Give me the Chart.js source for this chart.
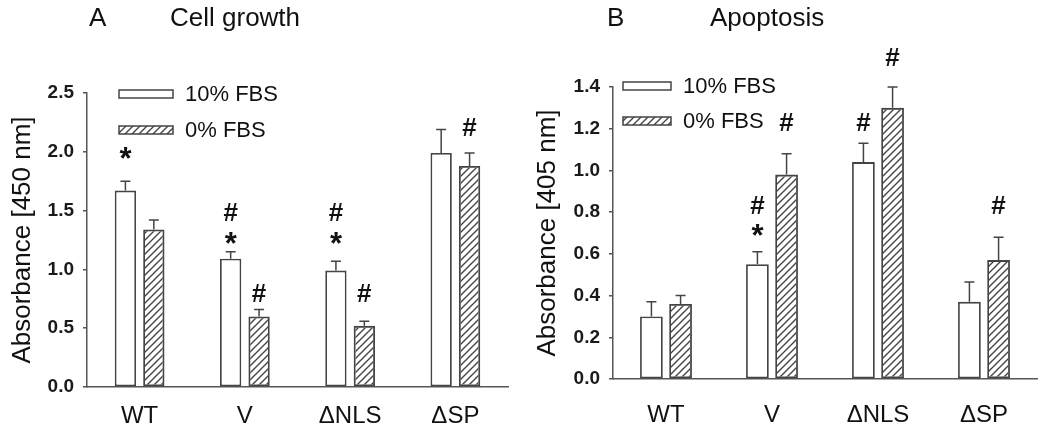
<!DOCTYPE html>
<html>
<head>
<meta charset="utf-8">
<script src="https://cdn.jsdelivr.net/npm/chart.js@4/dist/chart.umd.min.js"></script>
<style>
  body { margin: 0; background: #fff; }
  #wrap { position: relative; width: 1050px; height: 431px; }
  #growth { position: absolute; left: 0; top: 0; }
  #apop { position: absolute; left: 520px; top: 0; }
</style>
</head>
<body>
<div id="wrap">
  <canvas id="growth" width="520" height="431"></canvas>
  <canvas id="apop" width="530" height="431"></canvas>
</div>
<script>
// categories
const groups = ['WT', 'V', '\u0394NLS', '\u0394SP'];
const seriesNames = ['10% FBS', '0% FBS'];

// A - cell growth (absorbance 450 nm)
const growth10 = [1.67, 1.09, 0.99, 1.99];
const growth10Err = [0.08, 0.06, 0.08, 0.20];
const growth0 = [1.34, 0.60, 0.52, 1.88];
const growth0Err = [0.08, 0.06, 0.04, 0.11];
// significance marks: [series, group, symbol, y value]
const growthMarks = [
  [0, 0, '*', 1.99],
  [0, 1, '#', 1.49], [0, 1, '*', 1.27], [1, 1, '#', 0.80],
  [0, 2, '#', 1.49], [0, 2, '*', 1.27], [1, 2, '#', 0.80],
  [1, 3, '#', 2.21]
];

// B - apoptosis (absorbance 405 nm)
const apop10 = [0.30, 0.55, 1.04, 0.37];
const apop10Err = [0.07, 0.06, 0.09, 0.095];
const apop0 = [0.36, 0.98, 1.30, 0.57];
const apop0Err = [0.04, 0.10, 0.10, 0.11];
const apopMarks = [
  [0, 1, '#', 0.835], [0, 1, '*', 0.715], [1, 1, '#', 1.234],
  [0, 2, '#', 1.234], [1, 2, '#', 1.546],
  [1, 3, '#', 0.835]
];

const FONT = "'Liberation Sans', Arial, sans-serif";
const INK = '#111';
const LINE = '#444';

Chart.defaults.font.family = FONT;
Chart.defaults.color = INK;

function hatch() {
  const c = document.createElement('canvas');
  c.width = 7; c.height = 7;
  const g = c.getContext('2d');
  g.strokeStyle = '#444';
  g.lineWidth = 1.4;
  g.beginPath();
  g.moveTo(-1, 8); g.lineTo(8, -1);
  g.moveTo(-4.5, 4.5); g.lineTo(4.5, -4.5);
  g.moveTo(2.5, 11.5); g.lineTo(11.5, 2.5);
  g.stroke();
  return g.createPattern(c, 'repeat');
}
const hatchFill = hatch();

// draws error bars, stars/hashes, legend and panel titles
const extras = {
  id: 'extras',
  afterDatasetsDraw(chart, args, o) {
    const ctx = chart.ctx;
    const y = chart.scales.y;
    ctx.save();
    ctx.strokeStyle = LINE;
    ctx.lineWidth = 1.5;
    o.errors.forEach((errs, s) => {
      const meta = chart.getDatasetMeta(s);
      const vals = chart.data.datasets[s].data;
      errs.forEach((e, i) => {
        const x = meta.data[i].x;
        const y0 = y.getPixelForValue(vals[i]);
        const y1 = y.getPixelForValue(vals[i] + e);
        ctx.beginPath();
        ctx.moveTo(x, y0); ctx.lineTo(x, y1);
        ctx.moveTo(x - 5, y1); ctx.lineTo(x + 5, y1);
        ctx.stroke();
      });
    });

    ctx.fillStyle = INK;
    ctx.textAlign = 'center';
    ctx.textBaseline = 'alphabetic';
    o.marks.forEach(m => {
      const bar = chart.getDatasetMeta(m[0]).data[m[1]];
      ctx.font = (m[2] === '*' ? 'bold 31px ' : 'bold 26px ') + FONT;
      const tm = ctx.measureText(m[2]);
      const cy = y.getPixelForValue(m[3]);
      const off = (tm.actualBoundingBoxAscent - tm.actualBoundingBoxDescent) / 2;
      ctx.fillText(m[2], bar.x, cy + off);
    });

    // legend
    const L = o.legend;
    ctx.font = '22px ' + FONT;
    ctx.textAlign = 'left';
    ctx.textBaseline = 'middle';
    seriesNames.forEach((name, s) => {
      const cy = L.y + s * L.gap;
      ctx.fillStyle = s === 0 ? '#fff' : hatchFill;
      ctx.fillRect(L.x, cy - 4, L.w, 8);
      ctx.lineWidth = 1.5;
      ctx.strokeStyle = LINE;
      ctx.strokeRect(L.x, cy - 4, L.w, 8);
      ctx.fillStyle = INK;
      ctx.fillText(name, L.x + L.w + 12, cy + 1);
    });

    // panel title
    ctx.font = '26px ' + FONT;
    ctx.fillText(o.letter, o.letterX, 19);
    ctx.fillText(o.title, o.titleX, 19);
    ctx.restore();
  }
};

function panel(id, cfg) {
  new Chart(document.getElementById(id), {
    type: 'bar',
    data: {
      labels: groups,
      datasets: [
        { label: seriesNames[0], data: cfg.a, backgroundColor: '#fff' },
        { label: seriesNames[1], data: cfg.b, backgroundColor: hatchFill }
      ]
    },
    options: {
      responsive: false,
      animation: false,
      devicePixelRatio: 1,
      events: [],
      datasets: {
        bar: {
          borderColor: LINE,
          borderWidth: 1.8,
          borderSkipped: false,
          categoryPercentage: cfg.catPct,
          barPercentage: cfg.barPct
        }
      },
      layout: { padding: { top: cfg.top, right: cfg.right, left: 0, bottom: 0 } },
      plugins: {
        legend: { display: false },
        tooltip: { enabled: false },
        extras: {
          errors: cfg.errors, marks: cfg.marks, legend: cfg.legend,
          letter: cfg.letter, letterX: cfg.letterX, title: cfg.title, titleX: cfg.titleX
        }
      },
      scales: {
        x: {
          grid: { display: false, drawTicks: false },
          border: { display: true, color: '#555', width: 1.5 },
          ticks: { font: { size: 24 }, color: INK, padding: cfg.xPad },
          afterFit: s => { s.height = cfg.xHeight; }
        },
        y: {
          min: 0, max: cfg.max,
          grid: { drawOnChartArea: false, drawTicks: true, tickLength: 4, color: '#555', lineWidth: 1.5 },
          border: { display: true, color: '#555', width: 1.5 },
          ticks: { stepSize: cfg.step, font: { size: 19, weight: 'bold' }, color: '#1a1a1a', padding: 9,
                   callback: v => v.toFixed(1) },
          title: { display: true, text: cfg.yTitle, font: { size: 26 }, color: INK,
                   padding: { top: cfg.yTitlePad, bottom: 0 } },
          afterFit: s => { s.width = cfg.yWidth; }
        }
      }
    },
    plugins: [extras]
  });
}

panel('growth', {
  a: growth10, b: growth0, errors: [growth10Err, growth0Err], marks: growthMarks,
  max: 2.5, step: 0.5, yTitle: 'Absorbance [450 nm]', yTitlePad: 7,
  top: 93, right: 12, yWidth: 87, xHeight: 44, xPad: 15,
  catPct: 0.54, barPct: 0.75,
  legend: { x: 119, y: 94, w: 54, gap: 36 },
  letter: 'A', letterX: 89, title: 'Cell growth', titleX: 170
});

panel('apop', {
  a: apop10, b: apop0, errors: [apop10Err, apop0Err], marks: apopMarks,
  max: 1.4, step: 0.2, yTitle: 'Absorbance [405 nm]', yTitlePad: 12,
  top: 87, right: 13, yWidth: 93, xHeight: 52, xPad: 22,
  catPct: 0.55, barPct: 0.78,
  legend: { x: 103, y: 86, w: 48, gap: 35 },
  letter: 'B', letterX: 87, title: 'Apoptosis', titleX: 190
});
</script>
</body>
</html>
